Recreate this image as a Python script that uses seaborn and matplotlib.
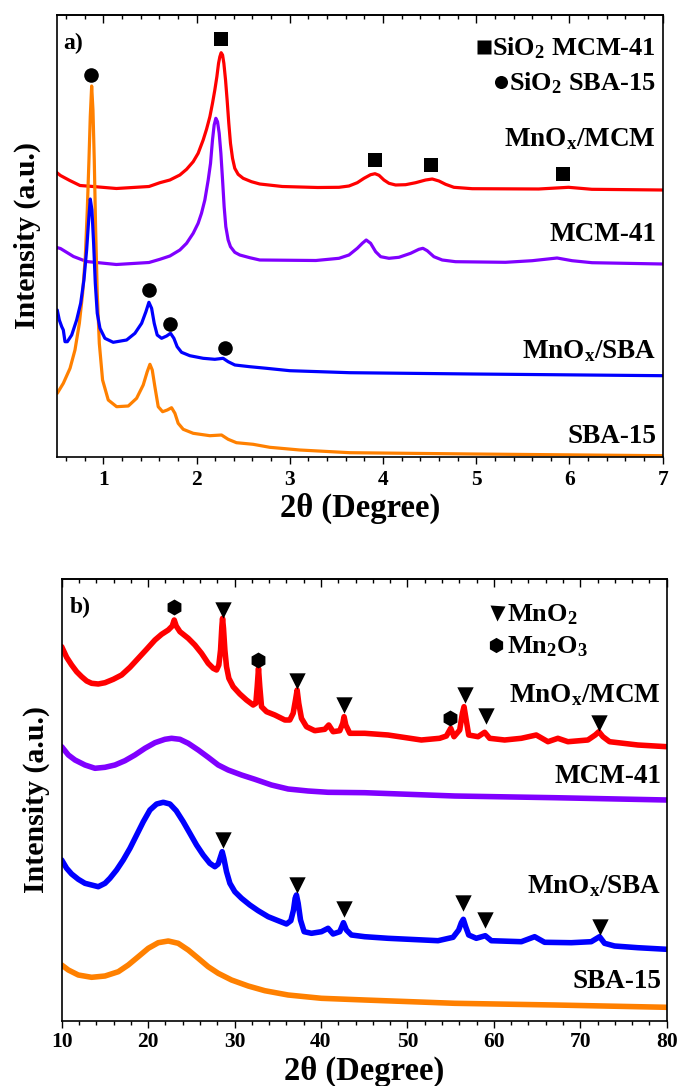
import matplotlib
matplotlib.use("Agg")
import matplotlib.pyplot as plt
from matplotlib.ticker import MultipleLocator
import seaborn as sns

# ---------------- panel a: small-angle XRD (stacked, a.u.) ----------------
sa_x_mnox_mcm = [0.50, 0.54, 0.64, 0.75, 0.89, 1.14, 1.49, 1.607, 1.714, 1.821,
                 1.893, 1.964, 2.017, 2.071, 2.107, 2.143, 2.171, 2.196, 2.218, 2.236,
                 2.25, 2.264, 2.279, 2.293, 2.311, 2.328, 2.346, 2.364, 2.386, 2.41,
                 2.446, 2.50, 2.589, 2.678, 2.92, 3.30, 3.528, 3.635, 3.724, 3.796,
                 3.867, 3.914, 3.957, 4.01, 4.064, 4.135, 4.242, 4.35, 4.457, 4.528,
                 4.60, 4.671, 4.76, 4.957, 5.67, 5.99, 6.24, 7.00]
sa_y_mnox_mcm = [284, 281, 276, 271, 270, 268, 270, 273.8, 276.5, 281.5,
                 287.2, 294.8, 303.2, 316.5, 327.2, 339.8, 353.2, 366.5, 379.8, 393.2,
                 399.8, 403.8, 401.5, 393.2, 376.5, 356.5, 333.2, 313.2, 298.2, 288.2,
                 282.2, 278.2, 274.8, 272.5, 270, 269, 269.2, 270.5, 273.8, 278.2,
                 281.8, 282.8, 281.2, 276.5, 273.2, 271.5, 271.8, 273.8, 276.5, 277.5,
                 275.5, 272.2, 269.2, 267.8, 267.5, 269.2, 267.2, 266.5]

sa_x_mcm = [0.50, 0.54, 0.68, 0.82, 1.14, 1.49, 1.607, 1.714, 1.821, 1.893,
            1.964, 2.017, 2.053, 2.089, 2.125, 2.15, 2.171, 2.189, 2.207, 2.225,
            2.243, 2.261, 2.279, 2.296, 2.314, 2.339, 2.364, 2.41, 2.464, 2.571,
            2.678, 3.28, 3.528, 3.635, 3.724, 3.778, 3.82, 3.867, 3.921, 3.975,
            4.064, 4.171, 4.296, 4.385, 4.428, 4.474, 4.546, 4.635, 4.778, 5.314,
            5.60, 5.867, 6.028, 6.242, 7.00]
sa_y_mcm = [209, 208, 200, 195, 192, 194, 197.2, 200.5, 206.5, 213.2,
            223.2, 233.2, 243.2, 256.5, 276.5, 293.2, 316.5, 331.5, 338.2, 334.8,
            323.2, 303.2, 276.5, 249.8, 229.8, 216.5, 209.8, 204.2, 201.5, 198.8,
            196.5, 196, 198.2, 201.5, 208.2, 213.2, 216.5, 213.2, 204.8, 199.8,
            198.2, 199.2, 203.2, 207.2, 208.2, 205.8, 199.8, 196.5, 194.8, 194.2,
            195.8, 198.5, 195.8, 193.8, 192.5]

sa_x_mnox_sba = [0.506, 0.528, 0.554, 0.571, 0.589, 0.614, 0.661, 0.714, 0.757, 0.792,
                 0.821, 0.843, 0.86, 0.878, 0.896, 0.914, 0.935, 0.964, 1.017, 1.106,
                 1.25, 1.339, 1.411, 1.457, 1.489, 1.518, 1.546, 1.578, 1.625, 1.679,
                 1.721, 1.757, 1.792, 1.839, 1.928, 2.071, 2.196, 2.285, 2.339, 2.411,
                 2.571, 2.75, 3.0, 3.643, 4.964, 7.00]
sa_y_mnox_sba = [146.5, 136.5, 129.8, 126.5, 114.8, 114.8, 121.5, 136.5, 153.2, 176.5,
                 206.5, 236.5, 257.5, 246.5, 213.2, 173.2, 143.2, 128.2, 118.2, 114.2,
                 116.5, 123.2, 133.2, 144.8, 154.2, 148.2, 133.2, 121.5, 118.2, 120.5,
                 123.2, 118.2, 109.8, 104.2, 100.8, 98.2, 97.2, 98.2, 94.8, 91.5,
                 89.8, 88.2, 85.8, 83.8, 82.5, 80.8]

sa_x_sba = [0.506, 0.571, 0.643, 0.696, 0.743, 0.778, 0.807, 0.828, 0.846, 0.86,
            0.875, 0.889, 0.903, 0.917, 0.935, 0.957, 0.992, 1.053, 1.143, 1.268,
            1.357, 1.428, 1.471, 1.50, 1.525, 1.553, 1.589, 1.636, 1.686, 1.732,
            1.768, 1.803, 1.857, 1.964, 2.143, 2.268, 2.339, 2.428, 2.607, 2.785,
            3.107, 3.643, 4.964, 7.00]
sa_y_sba = [63.2, 73.2, 88.2, 106.5, 133.2, 163.2, 199.8, 246.5, 296.5, 339.8,
            370.5, 346.5, 296.5, 229.8, 163.2, 113.2, 76.5, 56.5, 49.8, 50.5,
            58.2, 71.5, 84.8, 92.2, 86.5, 69.8, 49.8, 44.8, 46.5, 48.8,
            43.2, 33.2, 27.2, 23.2, 20.8, 21.5, 17.2, 13.8, 12.2, 9.2,
            6.5, 3.8, 2.5, 0.8]

# reflections of the silica frameworks
sa_circle_x = [0.87, 1.49, 1.72, 2.30]
sa_circle_y = [382, 167, 133, 109]
sa_square_x = [2.26, 3.91, 4.52, 5.93]
sa_square_y = [418, 297, 292, 283]

# ---------------- panel b: wide-angle XRD (stacked, a.u.) ----------------
wa_x_mnox_mcm = [10.0, 10.57, 11.15, 11.73, 12.31, 12.89, 13.46, 14.23, 15.01, 15.97,
                 16.93, 17.90, 18.86, 19.82, 20.79, 21.56, 22.33, 22.79, 23.02, 23.25,
                 23.68, 24.64, 25.41, 26.18, 26.95, 27.53, 27.92, 28.18, 28.38, 28.53,
                 28.61, 28.72, 28.88, 29.07, 29.34, 29.84, 30.61, 31.38, 32.15, 32.46,
                 32.62, 32.77, 32.92, 33.12, 33.70, 34.66, 35.82, 36.39, 36.78, 37.05,
                 37.24, 37.43, 37.74, 38.32, 39.28, 40.44, 40.90, 41.40, 42.17, 42.52,
                 42.67, 42.87, 43.33, 45.06, 47.76, 51.61, 53.73, 54.51, 55.01, 55.39,
                 56.05, 56.36, 56.55, 56.74, 57.09, 58.17, 58.94, 59.51, 61.25, 63.18,
                 64.91, 66.26, 67.41, 68.57, 70.88, 71.73, 72.15, 72.62, 73.39, 76.66,
                 80.0]
wa_y_mnox_mcm = [374, 363.4, 355.7, 349, 344, 339.7, 337.4, 336.7, 338, 341.4,
                 345.7, 353.4, 362.4, 371.4, 380.7, 386.4, 390.7, 394.7, 400.7, 394.7,
                 389, 382.4, 375.7, 367.4, 357.4, 352.4, 350.7, 355.7, 370.7, 394,
                 402.4, 392.4, 370.7, 354, 342.4, 334, 326.7, 320.7, 315.7, 317.4,
                 334, 352.4, 334, 314, 309, 305.7, 300.7, 300.7, 307.4, 320.7,
                 330.7, 317.4, 302.4, 294, 290, 291.4, 295.7, 289, 290, 297.4,
                 304, 295.7, 287.4, 287.4, 285.7, 280.7, 282.4, 284.7, 292.4, 284,
                 290.7, 307.4, 314, 304, 285.7, 284, 288.4, 282.4, 280.7, 282.4,
                 285.7, 279, 282.4, 279, 280.7, 285.7, 289, 284, 279, 275.7,
                 274]

wa_x_mcm = [10.0, 10.77, 11.54, 12.69, 13.85, 15.01, 16.16, 17.32, 18.47, 19.63,
            20.79, 21.94, 22.71, 23.68, 24.64, 25.80, 26.95, 28.11, 29.26, 30.81,
            32.35, 34.27, 36.2, 38.51, 40.82, 45.06, 55.47, 67.03, 80.0]
wa_y_mcm = [274, 265.7, 260.7, 255.7, 252.4, 253.4, 255.7, 260, 265.7, 272.4,
            278, 281.4, 282.4, 281.4, 277.4, 270.7, 263.4, 255.7, 250.7, 245.7,
            241.4, 235.7, 231.7, 229.7, 228.4, 228, 224.7, 223, 220.7]

wa_x_mnox_sba = [10.0, 10.57, 11.15, 11.92, 12.69, 13.46, 14.23, 15.01, 15.58, 16.35,
                 17.12, 17.90, 18.67, 19.44, 20.21, 20.98, 21.75, 22.52, 23.25, 24.06,
                 24.83, 25.6, 26.37, 27.14, 27.72, 28.11, 28.38, 28.57, 28.76, 29.07,
                 29.46, 30.03, 30.81, 31.77, 32.73, 33.89, 35.04, 36.01, 36.51, 36.82,
                 37.01, 37.16, 37.36, 37.63, 38.05, 38.9, 40.05, 40.82, 41.40, 42.17,
                 42.6, 42.94, 43.52, 45.06, 47.76, 53.54, 55.28, 55.93, 56.24, 56.47,
                 56.74, 57.09, 57.97, 59.01, 59.71, 63.18, 64.72, 65.87, 68.96, 71.27,
                 72.23, 72.81, 73.97, 76.66, 80.0]
wa_y_mnox_sba = [160.7, 152.4, 146.7, 141.4, 137.4, 135.7, 134, 137.4, 142.4, 150.7,
                 160.7, 172.4, 185.7, 199, 210.7, 216.7, 218.4, 216.7, 210, 199,
                 187.4, 175.7, 165.7, 157.4, 154, 156.7, 164, 169, 162.4, 149,
                 137.4, 129, 122.4, 115.7, 110, 104, 100, 96.7, 100, 110.7,
                 122.4, 125.7, 117.4, 100.7, 89, 87.4, 89, 92.4, 86.7, 89,
                 98, 90.7, 85.7, 84, 82.4, 80, 83.4, 90.7, 98, 101.4,
                 94, 85.7, 82.4, 85, 80, 79, 84, 78.4, 78, 79,
                 84, 77.4, 74.7, 73, 71.4]

wa_x_sba = [10.0, 10.77, 11.92, 13.46, 15.01, 16.55, 17.70, 18.86, 20.02, 21.17,
            22.33, 23.48, 24.64, 25.80, 26.95, 28.11, 29.65, 31.58, 33.5, 36.2,
            40.05, 45.06, 55.47, 67.03, 80.0]
wa_y_sba = [55.7, 50.7, 45.7, 43.4, 44.7, 49, 55.7, 64, 72.4, 78,
            79.7, 77.4, 70.7, 62.4, 54, 47.4, 40.7, 34.7, 30, 25.7,
            22.4, 20.7, 17.4, 15.7, 13.4]

# manganese oxide reflections
wa_hex_x = [23.02, 32.77, 54.97]
wa_hex_y = [414, 361, 303]
wa_tri_x = [28.61, 37.24, 42.67, 56.62, 59.05, 72.12,
            28.69, 37.24, 42.67, 56.47, 59.01, 72.23]
wa_tri_y = [411, 340, 316, 326, 305, 298,
            181, 136, 112, 118, 101, 94]

# ---------------- labels ----------------
sample_names = ["MnO$_{x}$/MCM", "MCM-41", "MnO$_{x}$/SBA", "SBA-15"]
silica_keys = ["SiO$_{2}$ MCM-41", "SiO$_{2}$ SBA-15"]
oxide_keys = ["MnO$_{2}$", "Mn$_{2}$O$_{3}$"]
x_title = "2\u03b8 (Degree)"
y_title = "Intensity (a.u.)"

RED, VIOLET, BLUE, ORANGE = "#ff0000", "#8000ff", "#0000ff", "#ff8000"

sns.set_theme(style="white")
plt.rcParams.update({
    "font.family": ["Liberation Serif", "DejaVu Serif"],
    "font.weight": "bold",
    "axes.labelweight": "bold",
    "mathtext.fontset": "custom",
    "mathtext.rm": "Liberation Serif:bold",
    "mathtext.it": "Liberation Serif:bold",
    "mathtext.bf": "Liberation Serif:bold",
    "axes.edgecolor": "black",
    "axes.linewidth": 1.2,
    "xtick.color": "black",
    "ytick.color": "black",
    "text.color": "black",
    "axes.labelcolor": "black",
    "lines.solid_joinstyle": "round",
})

fig = plt.figure(figsize=(6.8, 10.86), dpi=100)
W, H = 680.0, 1086.0
ax_a = fig.add_axes([56.7 / W, 1 - 456.5 / H, 606.0 / W, 441.5 / H])
ax_b = fig.add_axes([61.7 / W, 1 - 1020.7 / H, 605.0 / W, 441.7 / H])


def curve(ax, x, y, color, lw):
    sns.lineplot(x=x, y=y, ax=ax, color=color, lw=lw, estimator=None,
                 sort=False, legend=False)


def marks(ax, x, y, marker, ms):
    sns.scatterplot(x=x, y=y, ax=ax, marker=marker, s=ms ** 2, color="black",
                    linewidth=0, legend=False, zorder=5)


def style(ax, major, minor, pad, ylab_x, xlab_y):
    ax.xaxis.set_major_locator(MultipleLocator(major))
    ax.xaxis.set_minor_locator(MultipleLocator(minor))
    ax.tick_params(axis="x", which="major", direction="out", length=5, width=1,
                   bottom=True, top=False, labelsize=15.5, pad=pad)
    ax.tick_params(axis="x", which="minor", direction="out", length=2.6, width=1,
                   bottom=True, top=False)
    ax.tick_params(axis="y", left=False, right=False, labelleft=False)
    for s in ax.spines.values():
        s.set_visible(True)
        s.set_linewidth(1.2)
        s.set_color("black")
    top = ax.secondary_xaxis("top")
    top.xaxis.set_major_locator(MultipleLocator(major))
    top.xaxis.set_minor_locator(MultipleLocator(minor))
    top.tick_params(axis="x", which="major", direction="in", length=5.5, width=1,
                    labeltop=False)
    top.tick_params(axis="x", which="minor", direction="in", length=2.8, width=1)
    top.spines["top"].set_linewidth(1.2)
    ax.set_xlabel(x_title, fontsize=23.5)
    ax.set_ylabel(y_title, fontsize=21.5)
    ax.yaxis.set_label_coords(ylab_x, 0.5)
    ax.xaxis.set_label_coords(0.5, xlab_y)


# ---- panel a ----
curve(ax_a, sa_x_mnox_mcm, sa_y_mnox_mcm, RED, 2.3)
curve(ax_a, sa_x_mcm, sa_y_mcm, VIOLET, 2.3)
curve(ax_a, sa_x_sba, sa_y_sba, ORANGE, 2.3)
curve(ax_a, sa_x_mnox_sba, sa_y_mnox_sba, BLUE, 2.3)
marks(ax_a, sa_circle_x, sa_circle_y, "o", 10.5)
marks(ax_a, sa_square_x, sa_square_y, "s", 9.8)
ax_a.set_xlim(0.5, 7.0)
ax_a.set_ylim(0, 441.5)
style(ax_a, 1, 0.2, 5.0, -0.0254, -0.082)

# ---- panel b ----
curve(ax_b, wa_x_mnox_mcm, wa_y_mnox_mcm, RED, 4.0)
curve(ax_b, wa_x_mcm, wa_y_mcm, VIOLET, 4.0)
curve(ax_b, wa_x_mnox_sba, wa_y_mnox_sba, BLUE, 4.0)
curve(ax_b, wa_x_sba, wa_y_sba, ORANGE, 4.0)
marks(ax_b, wa_hex_x, wa_hex_y, "h", 11.5)
marks(ax_b, wa_tri_x, wa_tri_y, "v", 11.8)
ax_b.set_xlim(10, 80)
ax_b.set_ylim(0, 441.7)
style(ax_b, 10, 2, 3.0, -0.0195, -0.079)

# sample names at the right end of every trace
for name, yb in zip(sample_names, [310.5, 215.5, 98, 14]):
    ax_a.text(6.93, yb, name, ha="right", va="baseline", fontsize=19.5)
for name, yb in zip(sample_names, [319, 237.4, 128, 33]):
    ax_b.text(79.35, yb, name, ha="right", va="baseline", fontsize=19.5)

ax_a.text(0.0109, 0.9223, "a)", transform=ax_a.transAxes, ha="left",
          va="baseline", fontsize=17)
ax_b.text(0.0137, 0.9237, "b)", transform=ax_b.transAxes, ha="left",
          va="baseline", fontsize=17)

# phase keys: symbol followed by its label
key_a = [ax_a.text(6.93, yb, k, ha="right", va="baseline", fontsize=19)
         for k, yb in zip(silica_keys, [401.5, 366.5])]
key_b = [ax_b.text(61.5, yb, k, ha="left", va="baseline", fontsize=19)
         for k, yb in zip(oxide_keys, [399, 367.4])]

fig.canvas.draw()
renderer = fig.canvas.get_renderer()


def key_symbol(ax, txt, marker, ms, gap_px, rise_px):
    bb = txt.get_window_extent(renderer=renderer)
    base = ax.transData.transform(txt.get_position())[1]
    xd, yd = ax.transData.inverted().transform((bb.x0 - gap_px, base + rise_px))
    ax.plot([xd], [yd], marker=marker, ms=ms, color="black", ls="none",
            mec="none", clip_on=False)


key_symbol(ax_a, key_a[0], "s", 9.4, 8.3, 8.3)
key_symbol(ax_a, key_a[1], "o", 9.4, 8.3, 8.3)
key_symbol(ax_b, key_b[0], "v", 10.8, 10.0, 9.0)
key_symbol(ax_b, key_b[1], "h", 11.0, 11.0, 8.3)

fig.savefig("out.png", dpi=100)
